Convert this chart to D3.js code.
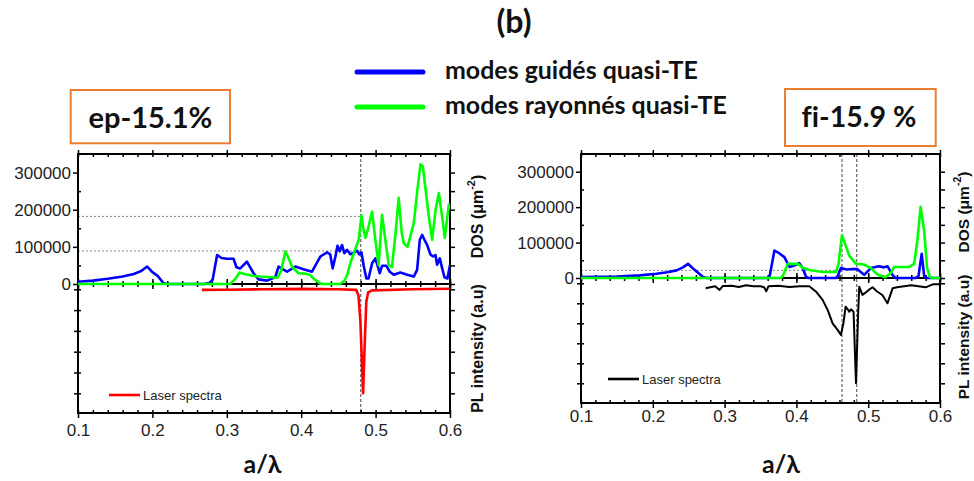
<!DOCTYPE html>
<html><head><meta charset="utf-8">
<script src="https://cdn.jsdelivr.net/npm/d3@7"></script>
<style>body{margin:0;background:#fff} svg{display:block} text{font-variant-ligatures:none;font-feature-settings:"liga" 0}</style>
</head><body>
<svg id="c" width="974" height="481"></svg>
<script>
// ---------- data ----------
const xTicks = [0.1, 0.2, 0.3, 0.4, 0.5, 0.6];
const xMinorTicks = d3.range(5, 31).map(i => i / 50);
const dosTicks = [0, 100000, 200000, 300000];
const dosMinorTicks = [50000, 150000, 250000];
const plTicks = [0, 1, 2, 3, 4, 5];
const legendLabels = ["modes guidés quasi-TE", "modes rayonnés quasi-TE"];
const panelLabels = ["ep-15.1%", "fi-15.9 %"];

const epGuided = [[0.1,6000],[0.12,9000],[0.14,14000],[0.16,20000],[0.175,27000],[0.185,35000],[0.193,47000],[0.2,32000],[0.207,22000],[0.215,2000],[0.22,0],[0.27,0],[0.277,3000],[0.281,12000],[0.284,45000],[0.287,78000],[0.293,70000],[0.3,68000],[0.309,68000],[0.313,45000],[0.318,42000],[0.327,60000],[0.336,29000],[0.3427,12500],[0.354,9000],[0.365,18000],[0.3696,47000],[0.375,40000],[0.381,33000],[0.392,47000],[0.403,40000],[0.4145,33000],[0.4257,74000],[0.4347,85000],[0.439,80000],[0.4423,42000],[0.446,74000],[0.4488,103000],[0.4518,88000],[0.4549,105000],[0.458,83000],[0.4616,92000],[0.466,80000],[0.4715,85000],[0.4749,90000],[0.478,80000],[0.481,85000],[0.484,49000],[0.4876,15000],[0.4905,15000],[0.4953,56000],[0.4997,69000],[0.5056,29000],[0.5087,49000],[0.5145,49000],[0.519,33000],[0.5244,25000],[0.5333,31000],[0.5424,25000],[0.5513,20000],[0.5558,38000],[0.5594,119000],[0.5626,132000],[0.5657,119000],[0.5693,105000],[0.5738,79000],[0.5774,74000],[0.5805,78000],[0.5827,52000],[0.5863,69000],[0.5895,42000],[0.5926,18000],[0.5965,15000],[0.6,51000]];
const epRadiated = [[0.1,0],[0.3,0],[0.305,1000],[0.312,15000],[0.317,31000],[0.325,26000],[0.335,22000],[0.345,20000],[0.36,18000],[0.368,17000],[0.373,35000],[0.3786,87000],[0.382,75000],[0.388,45000],[0.3965,29000],[0.405,28000],[0.412,24000],[0.418,12000],[0.426,1000],[0.43,0],[0.452,0],[0.458,8000],[0.462,25000],[0.466,56000],[0.472,90000],[0.4773,119000],[0.481,184000],[0.4835,150000],[0.4863,124000],[0.49,150000],[0.4953,195000],[0.4997,119000],[0.504,51000],[0.5087,186000],[0.513,120000],[0.5177,51000],[0.522,45000],[0.527,140000],[0.531,232000],[0.535,140000],[0.5378,110000],[0.543,100000],[0.5513,164000],[0.556,250000],[0.5603,322000],[0.5635,317000],[0.5715,182000],[0.576,119000],[0.5805,197000],[0.585,245000],[0.5895,180000],[0.593,124000],[0.5985,214000],[0.6,200000]];
const epLaser = [[0.2665,0.03],[0.3,0.02],[0.35,0.0],[0.4,-0.02],[0.45,0.0],[0.474,0.03],[0.477,0.3],[0.4795,1.5],[0.4832,5.0],[0.4855,2.5],[0.4875,0.6],[0.49,0.15],[0.495,0.05],[0.55,0.0],[0.6,-0.03]];
const epVLines = [0.48];
const epHLines = [182000, 89000];

const fiGuided = [[0.1,3000],[0.15,4000],[0.182,7500],[0.205,12000],[0.22,16000],[0.233,21500],[0.242,30000],[0.249,40000],[0.256,27000],[0.263,15000],[0.27,3000],[0.275,0],[0.36,0],[0.3625,3000],[0.366,40000],[0.3694,77500],[0.376,70000],[0.3833,59000],[0.3903,31000],[0.397,35000],[0.404,42000],[0.4088,28000],[0.4135,3000],[0.417,0],[0.455,0],[0.4574,5000],[0.462,28000],[0.47,24000],[0.478,25000],[0.485,25000],[0.4944,9000],[0.5037,28000],[0.515,33000],[0.522,30000],[0.527,33000],[0.5338,9000],[0.538,0],[0.566,0],[0.57,5000],[0.5745,68000],[0.578,5000],[0.582,0],[0.6,0]];
const fiRadiated = [[0.1,0],[0.378,0],[0.381,5000],[0.388,40000],[0.395,40000],[0.402,40000],[0.409,28000],[0.42,22000],[0.4365,17000],[0.455,17000],[0.4587,40000],[0.4635,121000],[0.468,95000],[0.4736,63000],[0.483,40000],[0.494,38000],[0.504,28000],[0.51,15000],[0.515,7500],[0.524,2000],[0.5315,14000],[0.536,31000],[0.557,31000],[0.564,40000],[0.5685,106000],[0.573,201000],[0.578,132000],[0.582,28000],[0.586,3000],[0.59,0],[0.6,0]];
const fiLaser = [[0.2736,0.25],[0.28,0.2],[0.287,0.15],[0.293,0.33],[0.2976,0.13],[0.31,0.12],[0.32,0.18],[0.33,0.1],[0.34,0.15],[0.35,0.15],[0.355,0.2],[0.358,0.4],[0.361,0.15],[0.375,0.12],[0.39,0.18],[0.405,0.15],[0.418,0.15],[0.4274,0.42],[0.4365,0.83],[0.4435,1.33],[0.4504,2.0],[0.4574,2.33],[0.462,2.58],[0.4655,2.0],[0.4685,1.17],[0.4715,1.3],[0.4736,1.42],[0.476,1.3],[0.4796,1.42],[0.483,5.0],[0.486,1.5],[0.4875,0.17],[0.492,0.58],[0.497,0.45],[0.502,0.3],[0.506,0.2],[0.512,0.4],[0.52,0.6],[0.5268,1.0],[0.534,0.25],[0.54,0.2],[0.55,0.15],[0.56,0.1],[0.57,0.15],[0.58,0.2],[0.59,0.05],[0.6,0.05]];
const fiVLines = [0.4635, 0.484];
const fiHLines = [21500];

// ---------- drawing ----------
const svg = d3.select('#c');
const SANS = "'Liberation Sans', Arial, sans-serif";
const CAL = "Lato, 'Open Sans', sans-serif";
const BLUE = '#0000ff', GREEN = '#00ff00';

function fit(t, w) {
  const l = t.node().getComputedTextLength();
  t.attr('font-size', parseFloat(t.attr('font-size')) * w / l);
}

const panels = [
  {id:'ep', x0:78, x1:450, yTop:154, yMid:284, yBot:413, plTop:289.3, plBot:393.3,
   guided:epGuided, radiated:epRadiated, laser:epLaser, laserColor:'#ff0000',
   vlines:epVLines, hlines:epHLines, xLabOff:17, labX:477, dosY:216.5, plY:348.5, labFs:16,
   legX:109, legY:395, box:{x:70.7,y:90,w:159.3,h:53.3}, boxText:{cx:150.4,by:128,w:124}, label:panelLabels[0],
   alX:262.5},
  {id:'fi', x0:581, x1:940, yTop:154, yMid:278, yBot:403, plTop:283.3, plBot:383.3,
   guided:fiGuided, radiated:fiRadiated, laser:fiLaser, laserColor:'#000000',
   vlines:fiVLines, hlines:fiHLines, xLabOff:13, labX:963, dosY:212, plY:337, labFs:15.5,
   legX:608, legY:379, box:{x:785,y:89,w:150.7,h:57}, boxText:{cx:859,by:126.5,w:115}, label:panelLabels[1],
   alX:781}
];

function styleAxis(sel) {
  sel.select('.domain').remove();
  sel.selectAll('line').attr('stroke', '#000').attr('stroke-width', 1.5);
  sel.selectAll('text').attr('font-family', SANS).attr('font-size', 17).attr('fill', '#222');
  return sel;
}

panels.forEach(p => {
  const g = svg.append('g');
  const x = d3.scaleLinear().domain([0.1, 0.6]).range([p.x0, p.x1]);
  const yD = d3.scaleLinear().domain([0, 350000]).range([p.yMid, p.yTop]);
  const yP = d3.scaleLinear().domain([0, 5]).range([p.plTop, p.plBot]);

  const clip = svg.append('clipPath').attr('id', 'clip-' + p.id);
  clip.append('rect').attr('x', p.x0).attr('y', p.yTop).attr('width', p.x1 - p.x0).attr('height', p.yBot - p.yTop);

  // reference dotted lines
  p.hlines.forEach(h => g.append('line')
    .attr('x1', p.x0).attr('x2', x(p.vlines[0])).attr('y1', yD(h)).attr('y2', yD(h))
    .attr('stroke', '#888').attr('stroke-width', 1).attr('stroke-dasharray', '2,2'));
  p.vlines.forEach(v => g.append('line')
    .attr('x1', x(v)).attr('x2', x(v)).attr('y1', p.yTop).attr('y2', p.yBot)
    .attr('stroke', '#666').attr('stroke-width', 1.2).attr('stroke-dasharray', '3,2'));

  // axes - bottom
  styleAxis(g.append('g').attr('transform', `translate(0,${p.yBot})`)
    .call(d3.axisBottom(x).tickValues(xTicks).tickSizeInner(5).tickSizeOuter(0).tickFormat(d3.format('.1f'))))
    .selectAll('text').attr('y', p.xLabOff).attr('dy', '0.35em');
  styleAxis(g.append('g').attr('transform', `translate(0,${p.yBot})`)
    .call(d3.axisBottom(x).tickValues(xMinorTicks).tickSizeInner(-3).tickSizeOuter(0).tickFormat('')));
  // top
  styleAxis(g.append('g').attr('transform', `translate(0,${p.yTop})`)
    .call(d3.axisTop(x).tickValues(xTicks).tickSizeInner(4).tickSizeOuter(0).tickFormat('')));
  styleAxis(g.append('g').attr('transform', `translate(0,${p.yTop})`)
    .call(d3.axisTop(x).tickValues(xMinorTicks).tickSizeInner(-3).tickSizeOuter(0).tickFormat('')));
  // middle
  [5, -5].forEach(s => styleAxis(g.append('g').attr('transform', `translate(0,${p.yMid})`)
    .call(d3.axisBottom(x).tickValues(xTicks).tickSizeInner(s).tickSizeOuter(0).tickFormat(''))));
  [3, -3].forEach(s => styleAxis(g.append('g').attr('transform', `translate(0,${p.yMid})`)
    .call(d3.axisBottom(x).tickValues(xMinorTicks).tickSizeInner(s).tickSizeOuter(0).tickFormat(''))));
  // left DOS
  styleAxis(g.append('g').attr('transform', `translate(${p.x0},0)`)
    .call(d3.axisLeft(yD).tickValues(dosTicks).tickSizeInner(5).tickSizeOuter(0).tickFormat(d3.format('d'))))
    .selectAll('text').attr('x', -7);
  styleAxis(g.append('g').attr('transform', `translate(${p.x0},0)`)
    .call(d3.axisLeft(yD).tickValues(dosMinorTicks).tickSizeInner(-3).tickSizeOuter(0).tickFormat('')));
  // right DOS
  styleAxis(g.append('g').attr('transform', `translate(${p.x1},0)`)
    .call(d3.axisRight(yD).tickValues(dosTicks.concat(dosMinorTicks)).tickSizeInner(5).tickSizeOuter(0).tickFormat('')));
  // left / right PL
  [4, -3].forEach(s => styleAxis(g.append('g').attr('transform', `translate(${p.x0},0)`)
    .call(d3.axisLeft(yP).tickValues(plTicks).tickSizeInner(s).tickSizeOuter(0).tickFormat(''))));
  styleAxis(g.append('g').attr('transform', `translate(${p.x1},0)`)
    .call(d3.axisRight(yP).tickValues(plTicks).tickSizeInner(5).tickSizeOuter(0).tickFormat('')));

  // frame + middle line
  g.append('rect').attr('x', p.x0).attr('y', p.yTop).attr('width', p.x1 - p.x0).attr('height', p.yBot - p.yTop)
    .attr('fill', 'none').attr('stroke', '#000').attr('stroke-width', 2);
  g.append('line').attr('x1', p.x0).attr('x2', p.x1).attr('y1', p.yMid).attr('y2', p.yMid)
    .attr('stroke', '#000').attr('stroke-width', 2);

  // curves (drawn over the frame, as in the original)
  const cg = g.append('g').attr('clip-path', `url(#clip-${p.id})`);
  const lineD = d3.line().x(d => x(d[0])).y(d => yD(d[1]));
  const lineP = d3.line().x(d => x(d[0])).y(d => yP(d[1]));
  cg.append('path').attr('d', lineD(p.guided)).attr('fill', 'none').attr('stroke', BLUE).attr('stroke-width', 2.6).attr('stroke-linejoin', 'round');
  cg.append('path').attr('d', lineD(p.radiated)).attr('fill', 'none').attr('stroke', GREEN).attr('stroke-width', 2.6).attr('stroke-linejoin', 'round');
  cg.append('path').attr('d', lineP(p.laser)).attr('fill', 'none').attr('stroke', p.laserColor).attr('stroke-width', p.id === 'ep' ? 2.6 : 2).attr('stroke-linejoin', 'round');

  // right labels
  const dl = g.append('text').attr('transform', `translate(${p.labX},${p.dosY}) rotate(-90)`)
    .attr('text-anchor', 'middle').attr('dominant-baseline', 'central')
    .attr('font-family', SANS).attr('font-weight', 'bold').attr('font-size', p.labFs).attr('fill', '#111');
  dl.append('tspan').text('DOS (μm');
  dl.append('tspan').attr('dy', -6).attr('font-size', p.labFs * 0.68).text('-2');
  dl.append('tspan').attr('dy', 6).text(')');
  g.append('text').attr('transform', `translate(${p.labX},${p.plY}) rotate(-90)`)
    .attr('text-anchor', 'middle').attr('dominant-baseline', 'central')
    .attr('font-family', SANS).attr('font-weight', 'bold').attr('font-size', p.labFs).attr('fill', '#111')
    .text('PL intensity (a.u)');

  // laser legend
  g.append('line').attr('x1', p.legX).attr('x2', p.legX + 31).attr('y1', p.legY).attr('y2', p.legY)
    .attr('stroke', p.laserColor).attr('stroke-width', 2.6);
  g.append('text').attr('x', p.legX + 34).attr('y', p.legY).attr('dy', '0.35em')
    .attr('font-family', SANS).attr('font-size', 13).attr('fill', '#222').text('Laser spectra');

  // a/λ
  const al = g.append('text').attr('x', p.alX).attr('y', 473).attr('text-anchor', 'middle')
    .attr('font-family', CAL).attr('font-weight', 'bold').attr('font-size', 26).attr('fill', '#111').text('a/λ');
  fit(al, 38);

  // box label
  g.append('rect').attr('x', p.box.x).attr('y', p.box.y).attr('width', p.box.w).attr('height', p.box.h)
    .attr('fill', '#fff').attr('stroke', '#ED7D31').attr('stroke-width', 2);
  const bt = g.append('text').attr('x', p.boxText.cx).attr('y', p.boxText.by).attr('text-anchor', 'middle')
    .attr('font-family', CAL).attr('font-weight', 'bold').attr('font-size', 26).attr('fill', '#111').text(p.label);
  fit(bt, p.boxText.w);
});

// title
const tt = svg.append('text').attr('x', 514).attr('y', 33).attr('text-anchor', 'middle')
  .attr('font-family', CAL).attr('font-weight', 'bold').attr('font-size', 26).attr('fill', '#111').text('(b)');
fit(tt, 35);

// top legend
const legColors = [BLUE, GREEN];
const legYs = [72, 107];
let legFs = null;
legendLabels.forEach((lab, i) => {
  svg.append('line').attr('x1', 357).attr('x2', 423).attr('y1', legYs[i]).attr('y2', legYs[i])
    .attr('stroke', legColors[i]).attr('stroke-width', 5).attr('stroke-linecap', 'round');
  const t = svg.append('text').attr('x', 445).attr('y', legYs[i] + 7)
    .attr('font-family', CAL).attr('font-weight', 'bold').attr('font-size', 24).attr('fill', '#111').text(lab);
  if (i === 0) { fit(t, 253); legFs = t.attr('font-size'); } else t.attr('font-size', legFs);
});
</script>
</body></html>
